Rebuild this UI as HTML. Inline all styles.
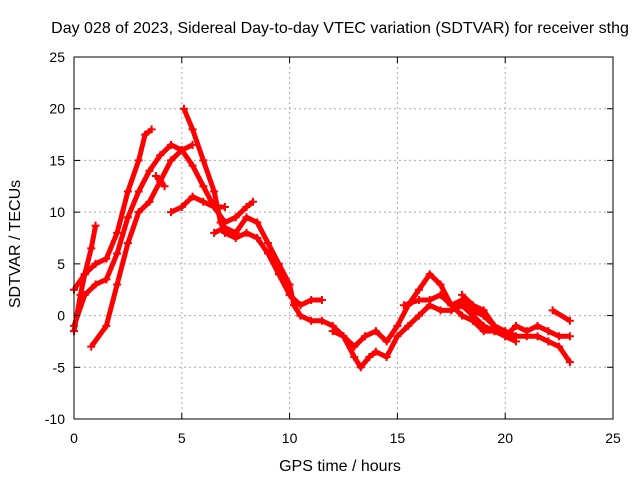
<!DOCTYPE html>
<html><head><meta charset="utf-8"><style>
body{margin:0;background:#fff;}
svg{display:block;font-family:"Liberation Sans",sans-serif;}
</style></head><body>
<svg id="chart" width="640" height="480">
<text x="340" y="33" font-size="16" text-anchor="middle">Day 028 of 2023, Sidereal Day-to-day VTEC variation (SDTVAR) for receiver sthg</text>
<text x="340" y="471" font-size="16" text-anchor="middle">GPS time / hours</text>
<text x="20" y="244" font-size="16" text-anchor="middle" transform="rotate(-90 20 244)">SDTVAR / TECUs</text>
<g id="grid"></g><g id="series"></g><g id="axes"></g>
</svg>
<script>
const xTicks=[0,5,10,15,20,25];
const yTicks=[-10,-5,0,5,10,15,20,25];
const trackA=[[0,-1.5],[0.3,2],[0.5,4],[0.8,6.5],[1.0,8.7]];
const trackB=[[0,2.5],[0.5,4],[1,5],[1.5,5.5],[2,8],[2.5,12],[3,15],[3.3,17.5],[3.6,18]];
const trackC=[[0,-1],[0.5,2],[1,3],[1.5,3.5],[2,6],[2.5,9.5],[3,12],[3.5,14],[4,15.5],[4.5,16.5],[5,16],[5.5,16.5]];
const trackD=[[0.8,-3],[1.5,-1],[2,3],[2.5,7],[3,10],[3.5,11],[4,13],[4.5,15],[5,16],[5.5,14.5],[6,12.5],[6.5,10.5],[7,10.5]];
const trackE=[[4.5,10],[5,10.5],[5.5,11.5],[6,11],[6.5,10.5],[7,9],[7.5,9.5],[8,10.5],[8.3,11]];
const trackF=[[5.1,20],[5.5,18],[6,15],[6.5,12],[6.8,9],[7,8],[7.5,7.5],[8,8],[8.5,7.5],[9,6],[9.5,4],[10,2],[10.5,1],[11,1.5],[11.5,1.5]];
const trackG=[[6.5,8],[7,8.5],[7.5,8],[8,9.5],[8.5,9],[9,7],[9.5,5],[10,3],[10.2,1],[10.5,0],[11,-0.5],[11.5,-0.5],[12,-1],[12.5,-2],[13,-4],[13.3,-5],[13.7,-4],[14,-3.5],[14.5,-4],[15,-2],[15.5,-1],[16,0],[16.5,1],[17,0.5],[17.5,0.5],[18,1],[18.5,0],[19,-1],[19.5,-1.5],[20,-2],[20.5,-2.5]];
const trackH=[[12,-1.5],[12.5,-2],[13,-3],[13.5,-2],[14,-1.5],[14.5,-2.5],[15,-1],[15.5,1],[16,2.5],[16.5,4],[17,3],[17.5,1],[18,0],[18.5,-0.5],[19,-1.5],[19.5,-1.5]];
const trackI=[[15.3,1],[16,1.5],[16.5,1.5],[17,2],[17.5,1],[18,1.5],[18.5,0.5],[19,0],[19.5,-1],[20,-1.5],[20.5,-2],[21,-2],[21.5,-2],[22,-2.5],[22.5,-3],[23,-4.5]];
const trackJ=[[18,2],[18.5,1],[19,0.5],[19.5,-1],[20,-2],[20.5,-1],[21,-1.5],[21.5,-1],[22,-1.5],[22.5,-2],[23,-2]];
const trackK=[[22.2,0.5],[23,-0.5]];
const trackL=[[3.8,13.5],[4.2,12.5]];
const tracks=[trackA,trackB,trackC,trackD,trackE,trackF,trackG,trackH,trackI,trackJ,trackK,trackL];
const X0=74,X1=613,Y0=419,Y1=57;
const xs=v=>X0+(v-0)/25*(X1-X0);
const ys=v=>Y0-(v+10)/35*(Y0-Y1);
const NS="http://www.w3.org/2000/svg";
function mk(t,a,p){const e=document.createElementNS(NS,t);for(const k in a)e.setAttribute(k,a[k]);p.appendChild(e);return e;}
const grid=document.getElementById('grid'),axes=document.getElementById('axes'),ser=document.getElementById('series');
xTicks.forEach(t=>{
 if(t>0&&t<25){const l=mk('line',{x1:xs(t),x2:xs(t),y1:Y1,y2:Y0,stroke:'#aaa','stroke-dasharray':'2,3'},grid);
 }
 const tx=mk('text',{x:xs(t),y:Y0+24,'font-size':14,'text-anchor':'middle'},axes);tx.textContent=t;
 
 mk('line',{x1:xs(t),x2:xs(t),y1:Y0,y2:Y0-6,stroke:'#000'},axes);
 mk('line',{x1:xs(t),x2:xs(t),y1:Y1,y2:Y1+6,stroke:'#000'},axes);
});
yTicks.forEach(t=>{
 if(t>-10&&t<25){const l=mk('line',{x1:X0,x2:X1,y1:ys(t),y2:ys(t),stroke:'#aaa','stroke-dasharray':'2,3'},grid);
 }
 const tx=mk('text',{x:X0-9,y:ys(t)+5,'font-size':14,'text-anchor':'end'},axes);tx.textContent=t;
 
 mk('line',{x1:X0,x2:X0+6,y1:ys(t),y2:ys(t),stroke:'#000'},axes);
 mk('line',{x1:X1,x2:X1-6,y1:ys(t),y2:ys(t),stroke:'#000'},axes);
});
const frame=mk('rect',{x:X0,y:Y1,width:X1-X0,height:Y0-Y1,fill:'none',stroke:'#000'},axes);

tracks.forEach(tr=>{
 const p=mk('polyline',{points:tr.map(d=>xs(d[0])+','+ys(d[1])).join(' '),fill:'none',stroke:'#f00','stroke-width':5,'stroke-linejoin':'round'},ser);
 
 tr.forEach(d=>{
  const x=xs(d[0]),y=ys(d[1]);
  const m=mk('path',{d:`M${x-4},${y}H${x+4}M${x},${y-4}V${y+4}`,stroke:'#f00','stroke-width':2},ser);
  
 });
});
</script>
</body></html>
